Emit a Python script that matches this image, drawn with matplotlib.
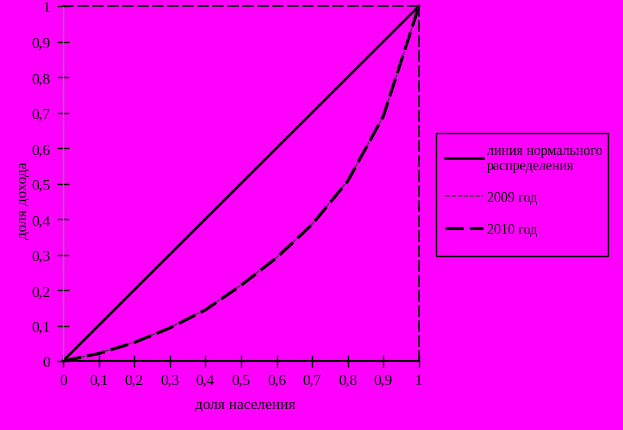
import matplotlib.pyplot as plt
from matplotlib.patches import Rectangle

plt.rcParams['font.family'] = ['Liberation Serif', 'DejaVu Serif']

# доля населения
x = [0, 0.1, 0.2, 0.3, 0.4, 0.5, 0.6, 0.7, 0.8, 0.9, 1]
# линия нормального распределения
even = [0, 0.1, 0.2, 0.3, 0.4, 0.5, 0.6, 0.7, 0.8, 0.9, 1]
# кривые Лоренца
y2009 = [0, 0.022, 0.053, 0.094, 0.145, 0.214, 0.292, 0.386, 0.508, 0.69, 1]
y2010 = [0, 0.021, 0.052, 0.093, 0.144, 0.213, 0.291, 0.385, 0.507, 0.69, 1]

xticks = [0, 0.1, 0.2, 0.3, 0.4, 0.5, 0.6, 0.7, 0.8, 0.9, 1]
tick_labels = ['0', '0,1', '0,2', '0,3', '0,4', '0,5', '0,6', '0,7', '0,8', '0,9', '1']

bg = '#ff00ff'
fig = plt.figure(figsize=(6.23, 4.31), dpi=100, facecolor=bg)
ax = fig.add_axes([0.1011, 0.160, 0.5714, 0.8237], facecolor=bg)

l1, = ax.plot(x, even, color='black', lw=1.8, clip_on=False,
              label='линия нормального\nраспределения')
l2, = ax.plot(x, y2009, color='#404040', lw=1.1, ls=(0, (3, 1)), clip_on=False,
              label='2009 год')
l3, = ax.plot(x, y2010, color='black', lw=2.2, ls=(0, (6, 2)), clip_on=False,
              label='2010 год')

ax.set_xlim(0, 1)
ax.set_ylim(0, 1)
ax.set_xticks(xticks)
ax.set_xticklabels(tick_labels)
ax.set_yticks(xticks)
ax.set_yticklabels(tick_labels)
ax.tick_params(direction='inout', length=8, width=1, labelsize=11, pad=5,
               colors='black')

ax.spines['left'].set_color('#808080')
ax.spines['left'].set_linewidth(1)
ax.spines['bottom'].set_color('black')
ax.spines['bottom'].set_linewidth(1.5)
for s in ['top', 'right']:
    ax.spines[s].set_color('black')
    ax.spines[s].set_linewidth(1.2)
    ax.spines[s].set_linestyle((0, (6, 3)))

fig.text(245 / 623, 1 - 406 / 431, 'доля населения', fontsize=11,
         ha='center', va='center')
fig.text(24 / 623, 1 - 200 / 431, 'доля дохода', fontsize=11,
         rotation=90, ha='center', va='center')

# рамка легенды
fig.patches.append(Rectangle((436 / 623, 1 - 257 / 431), 172 / 623, 123 / 431,
                             transform=fig.transFigure, fill=False,
                             ec='black', lw=1))
leg = fig.legend(handles=[l1, l2, l3], loc='upper left',
                 bbox_to_anchor=(441 / 623, 1 - 141 / 431),
                 borderaxespad=0, fontsize=10, frameon=False,
                 handlelength=2.7, handletextpad=0.3, labelspacing=1.35,
                 borderpad=0.3)

fig.savefig('out.png', dpi=100, facecolor=bg)
